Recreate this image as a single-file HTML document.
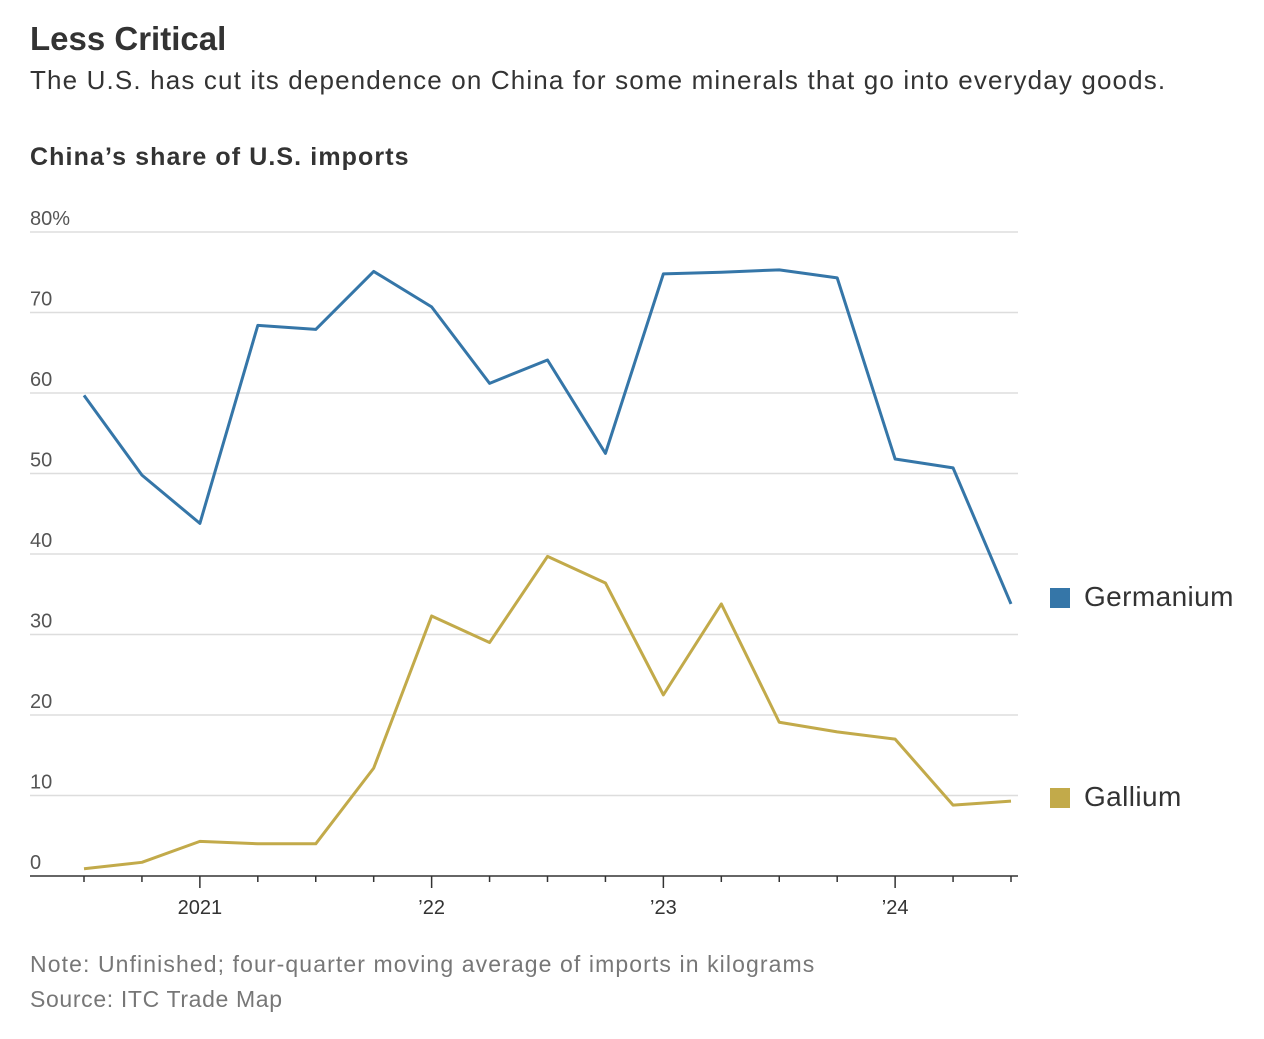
<!DOCTYPE html>
<html><head><meta charset="utf-8"><style>
body{margin:0;background:#fff;width:1264px;height:1034px;overflow:hidden;font-family:"Liberation Sans",sans-serif;color:#333}
svg text{font-family:"Liberation Sans",sans-serif}
</style></head><body>
<svg width="1264" height="1034">
<text x="30" y="50" font-size="33" font-weight="bold" fill="#333">Less Critical</text>
<text x="30" y="89" font-size="26" fill="#333" letter-spacing="1.15">The U.S. has cut its dependence on China for some minerals that go into everyday goods.</text>
<text x="30" y="165" font-size="25" font-weight="bold" fill="#333" letter-spacing="1.1">China’s share of U.S. imports</text>
<g id="grid"></g><g id="xaxis"></g><g id="lines"></g>
<rect x="1050" y="588" width="20" height="20" fill="#3576a8"/>
<text x="1084" y="606" font-size="28" fill="#333" letter-spacing="0.4">Germanium</text>
<rect x="1050" y="788" width="20" height="20" fill="#c2aa4a"/>
<text x="1084" y="806" font-size="28" fill="#333" letter-spacing="0.4">Gallium</text>
<text x="30" y="972" font-size="23" fill="#777" letter-spacing="1.1">Note: Unfinished; four-quarter moving average of imports in kilograms</text>
<text x="30" y="1007" font-size="23" fill="#777" letter-spacing="0.65">Source: ITC Trade Map</text>
</svg>
<script>
const yTicks=[0,10,20,30,40,50,60,70,80];
const yTickLabels=["0","10","20","30","40","50","60","70","80%"];
const quarters=["2020Q3","2020Q4","2021Q1","2021Q2","2021Q3","2021Q4","2022Q1","2022Q2","2022Q3","2022Q4","2023Q1","2023Q2","2023Q3","2023Q4","2024Q1","2024Q2","2024Q3"];
const germanium=[59.7,49.8,43.8,68.4,67.9,75.1,70.7,61.2,64.1,52.5,74.8,75.0,75.3,74.3,51.8,50.7,33.8];
const gallium=[0.9,1.7,4.3,4.0,4.0,13.4,32.3,29.0,39.7,36.4,22.5,33.8,19.1,17.9,17.0,8.8,9.3];
const xLabelIdx=[2,6,10,14];
const xLabels=["2021","’22","’23","’24"];
const NS="http://www.w3.org/2000/svg";
const y=v=>876-v*8.05;
const x=i=>84+i*(1011-84)/(quarters.length-1);
function mk(t,a,p){const e=document.createElementNS(NS,t);for(const k in a)e.setAttribute(k,a[k]);p.appendChild(e);return e;}
const grid=document.getElementById('grid');
yTicks.forEach((v,i)=>{
 if(v>0){const l=mk('line',{x1:30,x2:1018,y1:y(v),y2:y(v),stroke:'#ddd','stroke-width':1.5},grid);
 
 }
 const t=mk('text',{x:30,y:y(v)-7,'font-size':20,fill:'#555'},grid);t.textContent=yTickLabels[i];
 
 
});
const xa=document.getElementById('xaxis');
const ax=mk('line',{x1:30,x2:1018,y1:876,y2:876,stroke:'#333','stroke-width':1.5},xa);


quarters.forEach((q,i)=>{const major=xLabelIdx.includes(i);
 const tk=mk('line',{x1:x(i),x2:x(i),y1:876,y2:major?888:882,stroke:'#333','stroke-width':1.5},xa);
 
 });
xLabelIdx.forEach((idx,j)=>{const t=mk('text',{x:x(idx),y:914,'font-size':20,fill:'#333','text-anchor':'middle'},xa);t.textContent=xLabels[j];
 
 });
const lg=document.getElementById('lines');
[[germanium,'#3576a8','germanium-line'],[gallium,'#c2aa4a','gallium-line']].forEach(([d,c,n])=>{
 const p=mk('polyline',{points:d.map((v,i)=>x(i)+','+y(v)).join(' '),fill:'none',stroke:c,'stroke-width':3,'stroke-linejoin':'round'},lg);
 
 
});
</script>
</body></html>
